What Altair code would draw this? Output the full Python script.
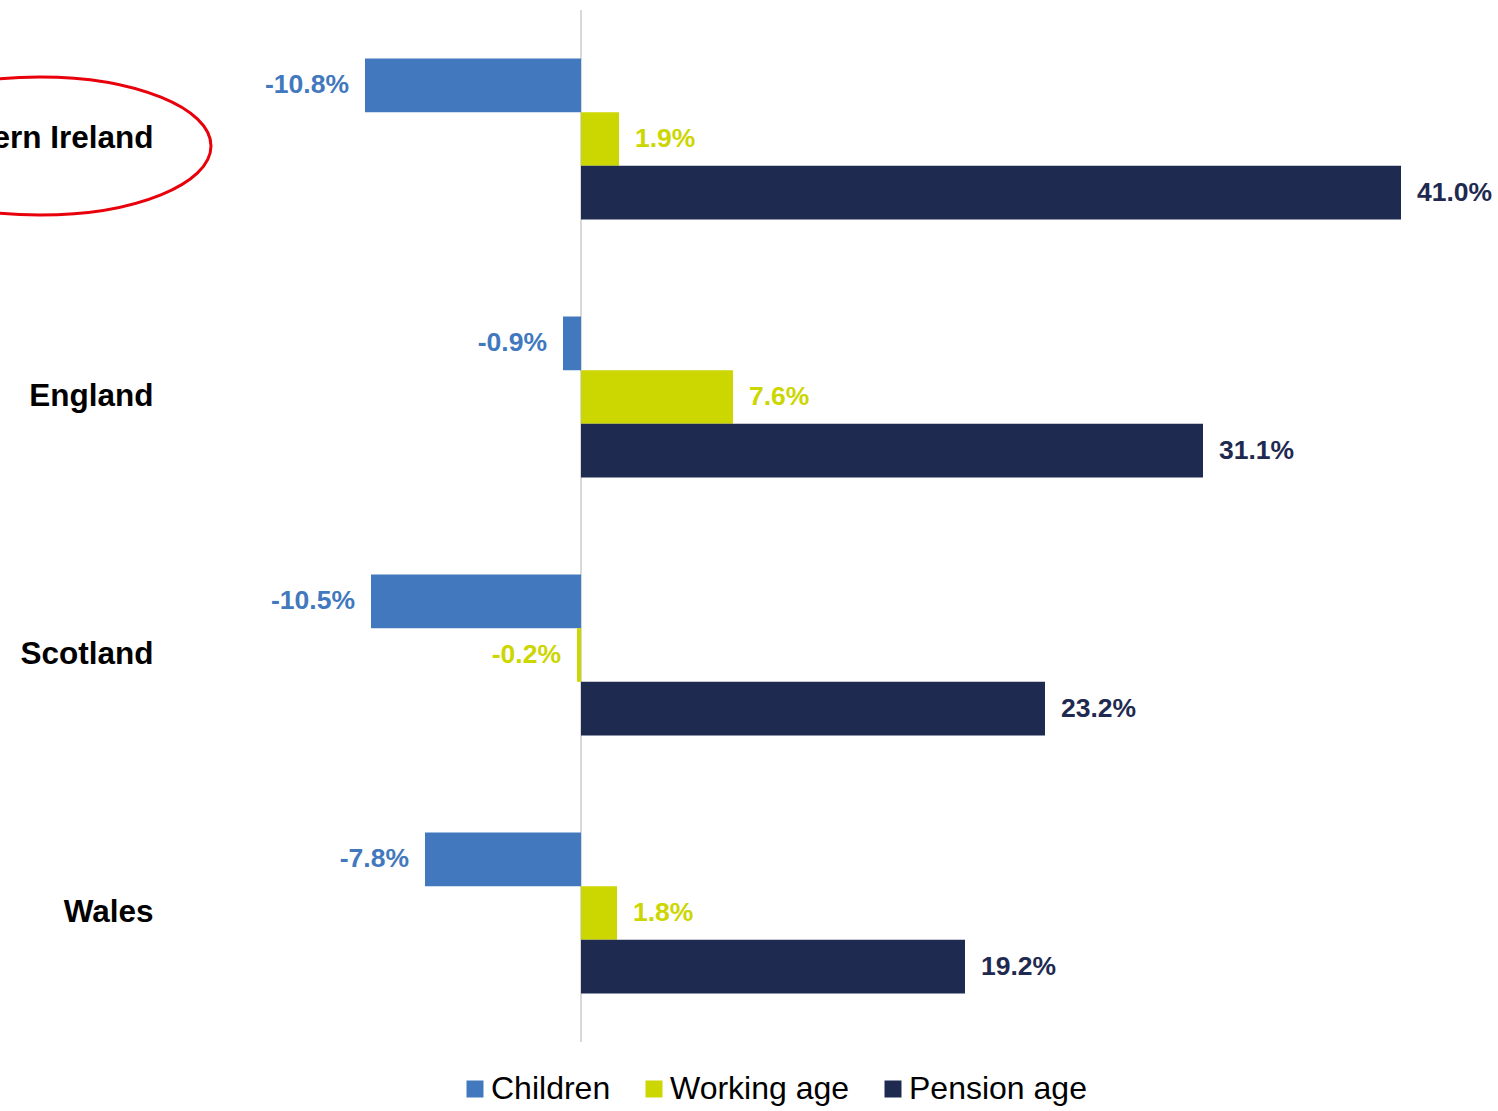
import altair as alt
import pandas as pd

countries = ["Northern Ireland", "England", "Scotland", "Wales"]
series = ["Children", "Working age", "Pension age"]
children = [-10.8, -0.9, -10.5, -7.8]
working_age = [1.9, 7.6, -0.2, 1.8]
pension_age = [41.0, 31.1, 23.2, 19.2]
colors = ["#4178BE", "#CCD600", "#1F2A50"]

rows = []
for i, c in enumerate(countries):
    for s, vals in zip(series, [children, working_age, pension_age]):
        rows.append({"country": c, "series": s, "value": vals[i]})
df = pd.DataFrame(rows)
df["label"] = df["value"].map(lambda v: f"{v:.1f}%")

FONT = "Liberation Sans"

x_scale = alt.Scale(domain=[-20, 45], nice=False, zero=False)
y_enc = alt.Y("country:N", sort=countries,
              scale=alt.Scale(paddingInner=0.376, paddingOuter=0.188),
              axis=alt.Axis(title=None, domain=False, ticks=False,
                            labelFontSize=31.5, labelFontWeight="bold",
                            labelColor="#000000", labelFont=FONT,
                            labelPadding=28, labelLimit=500))
yoff = alt.YOffset("series:N", sort=series, scale=alt.Scale(paddingInner=0, paddingOuter=0))
color = alt.Color("series:N", sort=series,
                  scale=alt.Scale(domain=series, range=colors),
                  legend=alt.Legend(title=None, orient="none", direction="horizontal",
                                    legendX=278, legendY=1063,
                                    symbolType="square", symbolSize=289,
                                    symbolStrokeWidth=0, symbolOpacity=1,
                                    labelFontSize=32, labelFont=FONT,
                                    labelColor="#000000", labelOffset=0,
                                    columnPadding=27, labelLimit=400))

base = alt.Chart(df)

bars = base.mark_bar().encode(
    x=alt.X("value:Q", scale=x_scale, axis=None),
    y=y_enc,
    yOffset=yoff,
    color=color,
)

text_color = alt.Color("series:N", sort=series,
                       scale=alt.Scale(domain=series, range=colors), legend=None)

pos_text = base.transform_filter("datum.value >= 0").mark_text(
    align="left", baseline="middle", dx=16, fontSize=26.5, fontWeight="bold", font=FONT
).encode(
    x=alt.X("value:Q", scale=x_scale, axis=None),
    y=alt.Y("country:N", sort=countries),
    yOffset=yoff,
    text="label:N",
    color=text_color,
)

neg_text = base.transform_filter("datum.value < 0").mark_text(
    align="right", baseline="middle", dx=-16, fontSize=26.5, fontWeight="bold", font=FONT
).encode(
    x=alt.X("value:Q", scale=x_scale, axis=None),
    y=alt.Y("country:N", sort=countries),
    yOffset=yoff,
    text="label:N",
    color=text_color,
)

zero_rule = alt.Chart(pd.DataFrame({"z": [0]})).mark_rule(
    color="#d9d9d9", strokeWidth=2
).encode(x=alt.X("z:Q", scale=x_scale, axis=None))

ellipse_df = pd.DataFrame({"country": ["Northern Ireland"], "pos": [-27.05]})
ellipse = alt.Chart(ellipse_df).mark_point(
    shape="M -1 0 A 1 0.404 0 1 1 1 0 A 1 0.404 0 1 1 -1 0 Z",
    filled=False, stroke="#E8000B", strokeWidth=3, size=116964, opacity=1, yOffset=7
).encode(
    x=alt.X("pos:Q", scale=x_scale, axis=None),
    y=alt.Y("country:N", sort=countries),
)

chart = alt.layer(zero_rule, bars, pos_text, neg_text, ellipse).properties(
    width=1300, height=1032,
    autosize=alt.AutoSizeParams(type="none"),
    padding={"left": 181, "top": 10, "right": 17, "bottom": 69},
    background="#ffffff",
).configure_view(stroke=None)

chart.save("out.html", embed_options={"renderer": "svg", "actions": False})
